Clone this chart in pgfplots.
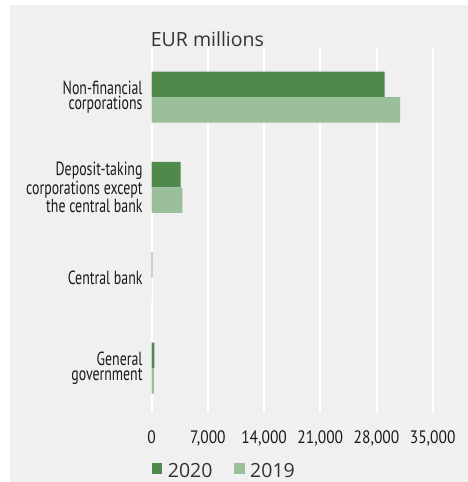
\documentclass[border=0pt]{standalone}
\usepackage{pgfplots}
\pgfplotsset{compat=1.18}
\usepackage{fontspec}
\setmainfont{Open Sans}
\newfontfamily\condf[FakeStretch=0.73]{PT Sans}
\newfontfamily\condt[FakeStretch=0.86]{PT Sans}
\definecolor{bg}{HTML}{F0F0F0}
\definecolor{dgreen}{HTML}{50894C}
\definecolor{lgreen}{HTML}{9BBF9B}
\definecolor{txt}{HTML}{1A1A1A}
\begin{document}
\begin{tikzpicture}
\path[use as bounding box] (0pt,0pt) rectangle (468pt,-482pt);
\fill[white] (0pt,0pt) rectangle (468pt,-482pt);
\fill[bg] (10pt,-5pt) rectangle (468pt,-482pt);
\node[anchor=base west, inner sep=0pt, font=\fontsize{19.5}{23}\selectfont, text=black!80] at (150.7pt,-46.7pt) {EUR millions};
\begin{axis}[
  at={(151.7pt,-413pt)}, anchor=south west,
  scale only axis, width=281pt, height=365pt,
  xmin=0, xmax=35000,
  ymin=-0.543, ymax=3.498, y dir=reverse,
  xtick={0,7000,14000,21000,28000,35000},
  ytick={0,1,2,3},
  yticklabels={{Non-financial\\corporations},{Deposit-taking\\corporations except\\the central bank},{Central bank},{General\\government}},
  scaled x ticks=false,
  /pgf/number format/1000 sep={,},
  /pgf/number format/assume math mode=true,
  xmajorgrids, grid style={white, line width=2pt},
  axis line style={draw=none},
  major tick length=0pt,
  xticklabel style={font=\condt\fontsize{18}{20}\selectfont, text=txt, inner sep=0pt, yshift=-17pt},
  yticklabel style={font=\condf\fontsize{19}{15.5}\selectfont, text=txt, align=right, inner sep=0pt, xshift=-9pt},
  xbar, bar width=25.5pt,
  legend style={at={(axis description cs:0,-0.158)}, anchor=west, draw=none, fill=none, legend columns=2,
    font=\fontsize{19.5}{23}\selectfont, text=black!80, inner sep=0pt, nodes={inner sep=0pt},
    /tikz/every odd column/.append style={column sep=5.6pt},
    /tikz/every even column/.append style={column sep=21.7pt}},
  legend image code/.code={\fill[#1] (0pt,-3pt) rectangle (10.4pt,7.4pt);},
]
\addplot[fill=dgreen, draw=none, bar shift=12.75pt] coordinates {(29000,0) (3610,1) (80,2) (330,3)};
\addplot[fill=lgreen, draw=none, bar shift=-12.75pt] coordinates {(30930,0) (3810,1) (0,2) (280,3)};
\legend{2020,2019}
\end{axis}
\end{tikzpicture}
\end{document}
